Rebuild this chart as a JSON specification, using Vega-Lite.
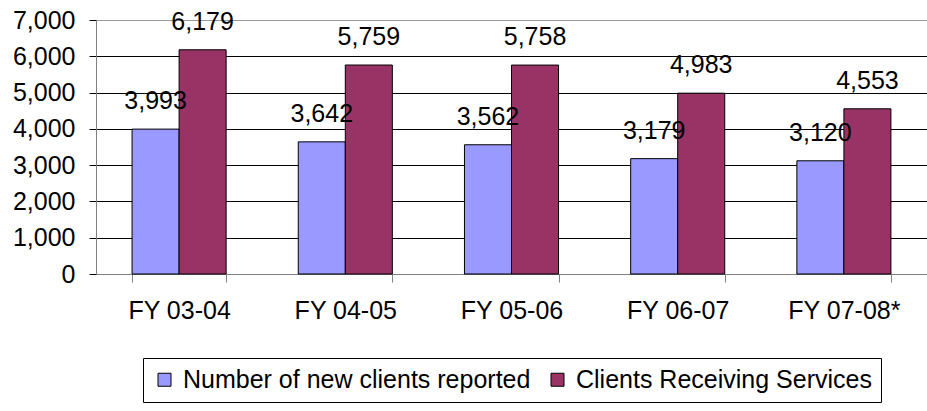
{
  "$schema": "https://vega.github.io/schema/vega-lite/v6.json",
  "width": 831,
  "height": 254,
  "autosize": "none",
  "padding": {"left": 96, "top": 20, "right": 0, "bottom": 137},
  "config": {"view": {"stroke": null}, "font": "Liberation Sans"},
  "data": {"values": [
    {"fy": "FY 03-04", "series": "Number of new clients reported", "value": 3993},
    {"fy": "FY 03-04", "series": "Clients Receiving Services", "value": 6179},
    {"fy": "FY 04-05", "series": "Number of new clients reported", "value": 3642},
    {"fy": "FY 04-05", "series": "Clients Receiving Services", "value": 5759},
    {"fy": "FY 05-06", "series": "Number of new clients reported", "value": 3562},
    {"fy": "FY 05-06", "series": "Clients Receiving Services", "value": 5758},
    {"fy": "FY 06-07", "series": "Number of new clients reported", "value": 3179},
    {"fy": "FY 06-07", "series": "Clients Receiving Services", "value": 4983},
    {"fy": "FY 07-08*", "series": "Number of new clients reported", "value": 3120},
    {"fy": "FY 07-08*", "series": "Clients Receiving Services", "value": 4553}
  ]},
  "encoding": {
    "x": {
      "field": "fy", "type": "nominal", "sort": null,
      "scale": {"paddingInner": 0.434, "paddingOuter": 0.217},
      "axis": {
        "title": null, "labelAngle": 0, "labelFontSize": 25, "labelColor": "black",
        "tickBand": "extent", "tickSize": 8, "tickColor": "#808080",
        "domainColor": "#808080", "labelPadding": 16, "grid": false
      }
    },
    "xOffset": {
      "field": "series", "type": "nominal",
      "sort": ["Number of new clients reported", "Clients Receiving Services"],
      "scale": {"paddingInner": 0, "paddingOuter": 0}
    },
    "y": {
      "field": "value", "type": "quantitative",
      "scale": {"domain": [0, 7000]},
      "axis": {
        "title": null, "values": [0, 1000, 2000, 3000, 4000, 5000, 6000, 7000],
        "format": ",.0f", "labelFontSize": 25, "labelColor": "black",
        "tickColor": "black", "tickSize": 7, "labelPadding": 14,
        "domainColor": "#808080",
        "gridColor": {"condition": {"test": "datum.value === 7000", "value": "#999999"}, "value": "black"},
        "gridWidth": 1
      }
    }
  },
  "layer": [
    {
      "mark": {"type": "bar", "stroke": "black", "strokeWidth": 1},
      "encoding": {
        "color": {
          "field": "series", "type": "nominal",
          "scale": {"domain": ["Number of new clients reported", "Clients Receiving Services"], "range": ["#9999FF", "#993366"]},
          "legend": {
            "title": null, "orient": "none", "legendX": 47, "legendY": 338,
            "direction": "horizontal", "labelFontSize": 25, "labelColor": "black",
            "labelLimit": 1000,
            "symbolType": "square", "symbolSize": 169, "symbolStrokeColor": "black",
            "symbolStrokeWidth": 1, "symbolOpacity": 1, "strokeColor": "black",
            "fillColor": "white", "padding": 9, "columnPadding": 14, "labelOffset": 6
          }
        }
      }
    },
    {
      "mark": {"type": "text", "dy": -28, "fontSize": 25, "baseline": "middle", "color": "black"},
      "encoding": {"text": {"field": "value", "type": "quantitative", "format": ","}}
    }
  ]
}
